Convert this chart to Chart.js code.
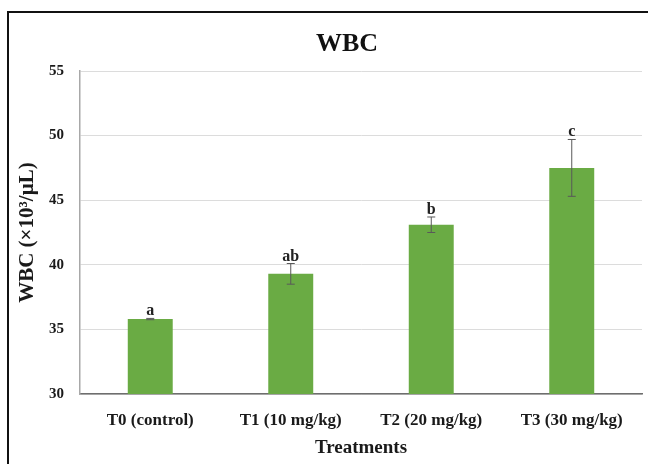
<!DOCTYPE html>
<html>
<head>
<meta charset="utf-8">
<script src="https://cdn.jsdelivr.net/npm/chart.js@4/dist/chart.umd.min.js"></script>
<style>
  html, body { margin: 0; padding: 0; background: #fff; }
  #wrap { width: 648px; height: 464px; position: relative; }
</style>
</head>
<body>
<div id="wrap"><canvas id="chart"></canvas></div>
<script>
// 데이터
const categories = ['T0 (control)', 'T1 (10 mg/kg)', 'T2 (20 mg/kg)', 'T3 (30 mg/kg)'];
const wbcMean = [35.8, 39.3, 43.1, 47.5];
const wbcError = [0.05, 0.8, 0.6, 2.2];
const groupLetters = ['a', 'ab', 'b', 'c'];
const yTicks = [30, 35, 40, 45, 50, 55];

const serif = "'Liberation Serif', 'DejaVu Serif', serif";

// 바깥 테두리 + 제목
const framePlugin = {
    id: 'frame',
    beforeDraw(chart) {
        const ctx = chart.ctx;
        ctx.save();
        ctx.fillStyle = '#fff';
        ctx.fillRect(0, 0, chart.width, chart.height);
        ctx.strokeStyle = '#111';
        ctx.lineWidth = 2;
        ctx.strokeRect(8, 12, chart.width + 20, chart.height + 20);
        ctx.restore();
    },
    afterDraw(chart) {
        const ctx = chart.ctx;
        ctx.save();
        ctx.fillStyle = '#111';
        ctx.font = "bold 26px " + serif;
        ctx.textAlign = 'center';
        ctx.textBaseline = 'middle';
        ctx.fillText('WBC', 347, 44);
        ctx.restore();
    }
};

// 오차 막대 + 유의성 문자
const errorBarPlugin = {
    id: 'errorBars',
    afterDatasetsDraw(chart) {
        const ctx = chart.ctx;
        const y = chart.scales.y;
        const meta = chart.getDatasetMeta(0);
        ctx.save();
        meta.data.forEach((bar, i) => {
            const top = y.getPixelForValue(wbcMean[i] + wbcError[i]);
            const bottom = y.getPixelForValue(wbcMean[i] - wbcError[i]);
            ctx.strokeStyle = '#595959';
            ctx.lineWidth = 1;
            ctx.beginPath();
            ctx.moveTo(bar.x, top);
            ctx.lineTo(bar.x, bottom);
            ctx.moveTo(bar.x - 4, top);
            ctx.lineTo(bar.x + 4, top);
            ctx.moveTo(bar.x - 4, bottom);
            ctx.lineTo(bar.x + 4, bottom);
            ctx.stroke();

            ctx.fillStyle = '#222';
            ctx.font = "bold 16px " + serif;
            ctx.textAlign = 'center';
            ctx.textBaseline = 'alphabetic';
            ctx.fillText(groupLetters[i], bar.x, top - 3);
        });
        ctx.restore();
    }
};

new Chart(document.getElementById('chart'), {
    type: 'bar',
    data: {
        labels: categories,
        datasets: [{
            label: 'WBC',
            data: wbcMean,
            backgroundColor: '#6aab44',
            borderWidth: 0,
            barPercentage: 0.32,
            categoryPercentage: 1
        }]
    },
    options: {
        responsive: true,
        maintainAspectRatio: false,
        animation: false,
        layout: { padding: { left: 0, right: 6, top: 71, bottom: 0 } },
        plugins: {
            legend: { display: false },
            tooltip: { enabled: false }
        },
        scales: {
            x: {
                grid: { display: false, drawTicks: false },
                border: { display: true, color: '#6e6e6e', width: 1.5 },
                ticks: {
                    color: '#1a1a1a',
                    font: { family: serif, size: 17, weight: 'bold' },
                    padding: 16,
                    maxRotation: 0
                },
                title: {
                    display: true,
                    text: 'Treatments',
                    color: '#1a1a1a',
                    font: { family: serif, size: 19, weight: 'bold' },
                    padding: { top: 0, bottom: 5 }
                },
                afterFit(scale) { scale.height = 70; }
            },
            y: {
                min: 30,
                max: 55,
                afterBuildTicks(scale) { scale.ticks = yTicks.map(v => ({ value: v })); },
                grid: { color: '#dcdcdc', lineWidth: 1, drawTicks: false },
                border: { display: true, color: '#a8a8a8', width: 1.5 },
                ticks: {
                    color: '#1a1a1a',
                    font: { family: serif, size: 15, weight: 'bold' },
                    padding: 16
                },
                title: {
                    display: true,
                    text: 'WBC (×10³/µL)',
                    color: '#1a1a1a',
                    font: { family: serif, size: 21, weight: 'bold' },
                    padding: { top: 15, bottom: 0 }
                },
                afterFit(scale) { scale.width = 80; }
            }
        }
    },
    plugins: [framePlugin, errorBarPlugin]
});
</script>
</body>
</html>
